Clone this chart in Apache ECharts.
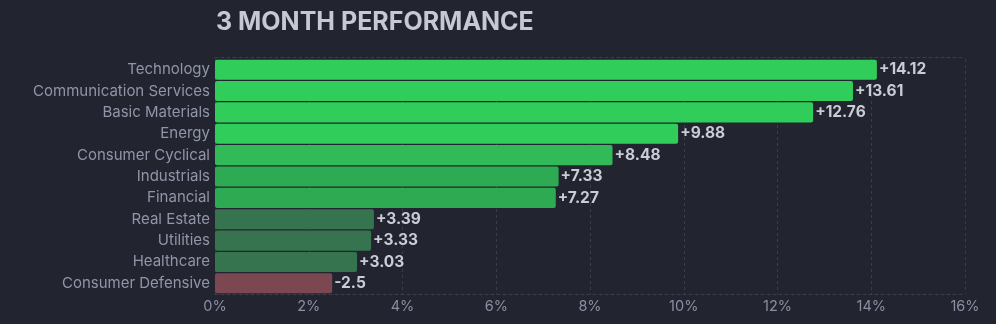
<!DOCTYPE html>
<html><head><meta charset="utf-8">
<script src="https://cdn.jsdelivr.net/npm/echarts@6/dist/echarts.min.js"></script>
<style>html,body{margin:0;padding:0;background:#22252f;}#c{width:996px;height:324px;}</style>
</head><body><div id="c"></div>
<script>
const categories = ["Technology","Communication Services","Basic Materials","Energy","Consumer Cyclical","Industrials","Financial","Real Estate","Utilities","Healthcare","Consumer Defensive"];
const values = [14.12, 13.61, 12.76, 9.88, 8.48, 7.33, 7.27, 3.39, 3.33, 3.03, -2.5];
const xTicks = [0, 2, 4, 6, 8, 10, 12, 14, 16];

function colorFor(v){
  if (v < 0) return '#7b4751';
  if (v >= 9) return '#30cd5a';
  if (v >= 8) return '#31ba57';
  if (v >= 5) return '#2eaa52';
  return '#35744f';
}
const chart = echarts.init(document.getElementById('c'));
const dashed = {color:'#3a3e4b', type:[3,3], width:1};
chart.setOption({
  backgroundColor:'#22252f',
  animation:false,
  title:{text:'3 MONTH PERFORMANCE', left:211, top:5,
    textStyle:{color:'#c6c9d4', fontSize:25, fontWeight:'bold', fontFamily:'Inter'}},
  grid:{left:215, right:31, top:59, bottom:30, containLabel:false},
  xAxis:[{type:'value', min:xTicks[0], max:xTicks[xTicks.length-1], interval:2, position:'bottom',
    axisLine:{show:true, lineStyle:dashed}, axisTick:{show:false},
    axisLabel:{color:'#8a8fa3', fontSize:14.5, fontFamily:'Inter', margin:5, formatter:v=>v+'%'},
    splitLine:{show:true, lineStyle:dashed}},
    {type:'value', min:0, max:16, interval:2, position:'top', offset:2,
    axisLine:{show:true, lineStyle:dashed}, axisTick:{show:false}, axisLabel:{show:false}, splitLine:{show:false}}],
  yAxis:{type:'category', inverse:true, data:categories,
    axisLine:{show:false}, axisTick:{show:false},
    axisLabel:{color:'#9095a9', fontSize:15, fontFamily:'Inter', margin:5},
    splitLine:{show:false}},
  series:[{type:'bar', xAxisIndex:0, barCategoryGap:'6%',
    data: values.map(v=>({value:Math.abs(v), itemStyle:{color:colorFor(v), borderRadius:2}})),
    label:{show:true, position:'right', distance:2, color:'#c9ccd5', fontSize:15.5, fontWeight:'bold', fontFamily:'Inter',
      formatter:p=>{const v=values[p.dataIndex]; return (v>0?'+':'')+v;}}
  }]
});
</script></body></html>
